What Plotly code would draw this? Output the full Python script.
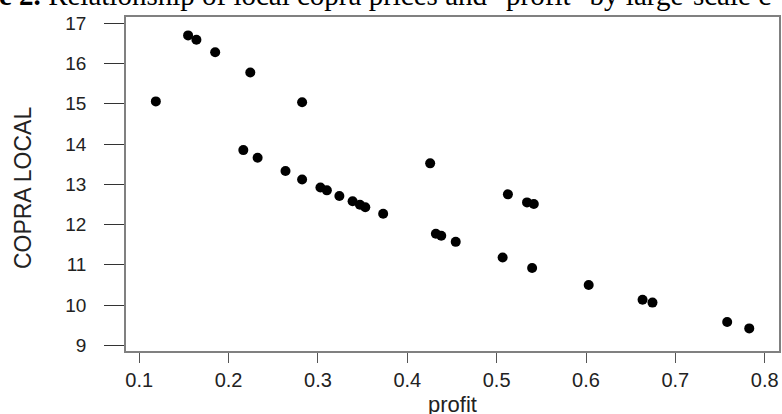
import plotly.graph_objects as go

profit = [0.1186, 0.1547, 0.1640, 0.1850, 0.2243, 0.2823, 0.2165, 0.2325, 0.2637,
          0.2823, 0.3028, 0.3100, 0.3240, 0.3388, 0.3470, 0.3530, 0.3730, 0.4256,
          0.5126, 0.5340, 0.5416, 0.4320, 0.4380, 0.4542, 0.5067, 0.5397, 0.6030,
          0.6633, 0.6744, 0.7580, 0.7827]
copra_local = [15.06, 16.70, 16.59, 16.28, 15.78, 15.04, 13.85, 13.66, 13.33,
               13.12, 12.92, 12.85, 12.71, 12.58, 12.49, 12.43, 12.27, 13.52,
               12.75, 12.55, 12.51, 11.77, 11.72, 11.57, 11.18, 10.92, 10.50,
               10.13, 10.06, 9.58, 9.42]

x_ticks = [0.1, 0.2, 0.3, 0.4, 0.5, 0.6, 0.7, 0.8]
y_ticks = [9, 10, 11, 12, 13, 14, 15, 16, 17]

title_text = '<b>e 2.</b> Relationship of local copra prices and "profit" by large-scale c'

fig = go.Figure()
fig.add_trace(go.Scatter(
    x=profit, y=copra_local, mode="markers",
    marker=dict(color="black", size=10, line=dict(width=0)),
    showlegend=False, cliponaxis=False,
))

W, H = 782, 414
ml, mr, mt, mb = 126, 1, 17, 63
pw, ph = W - ml - mr, H - mt - mb

fig.update_layout(
    width=W, height=H,
    margin=dict(l=ml, r=mr, t=mt, b=mb, pad=0),
    paper_bgcolor="white", plot_bgcolor="white",
    font=dict(family="Liberation Sans, Arial, sans-serif", color="#222222"),
    xaxis=dict(
        range=[0.0852, 0.816], tickvals=x_ticks, ticktext=[f"{v:.1f}" for v in x_ticks],
        showgrid=False, zeroline=False,
        showline=True, linecolor="#808080", linewidth=1.5, mirror=True,
        ticks="outside", ticklen=10, tickwidth=1.2, tickcolor="#555555",
        tickfont=dict(size=20), ticklabelstandoff=0,
    ),
    yaxis=dict(
        range=[8.858, 17.157], tickvals=y_ticks,
        showgrid=False, zeroline=False,
        showline=True, linecolor="#808080", linewidth=1.5, mirror=True,
        ticks="outside", ticklen=20, tickwidth=1.2, tickcolor="#333333",
        tickfont=dict(size=19), ticklabelstandoff=14,
    ),
    annotations=[
        dict(text=title_text, xref="paper", yref="paper",
             x=(-3 - ml) / pw, y=(ph + mt + 4.7) / ph, xanchor="left", yanchor="middle",
             showarrow=False,
             font=dict(family="Liberation Serif, Times New Roman, serif", size=29, color="black")),
        dict(text="COPRA LOCAL", xref="paper", yref="paper",
             x=(22.8 - ml) / pw, y=(351 - 188) / ph, xanchor="center", yanchor="middle",
             textangle=-90, showarrow=False,
             font=dict(size=23, color="#222222")),
        dict(text="profit", xref="paper", yref="paper",
             x=(453 - ml) / pw, y=(351 - 404) / ph, xanchor="center", yanchor="middle",
             showarrow=False,
             font=dict(size=22, color="#222222")),
    ],
)

fig.write_html("out.html", config={"displayModeBar": False},
               post_script="document.body.style.margin='0';document.body.style.overflow='hidden';")
